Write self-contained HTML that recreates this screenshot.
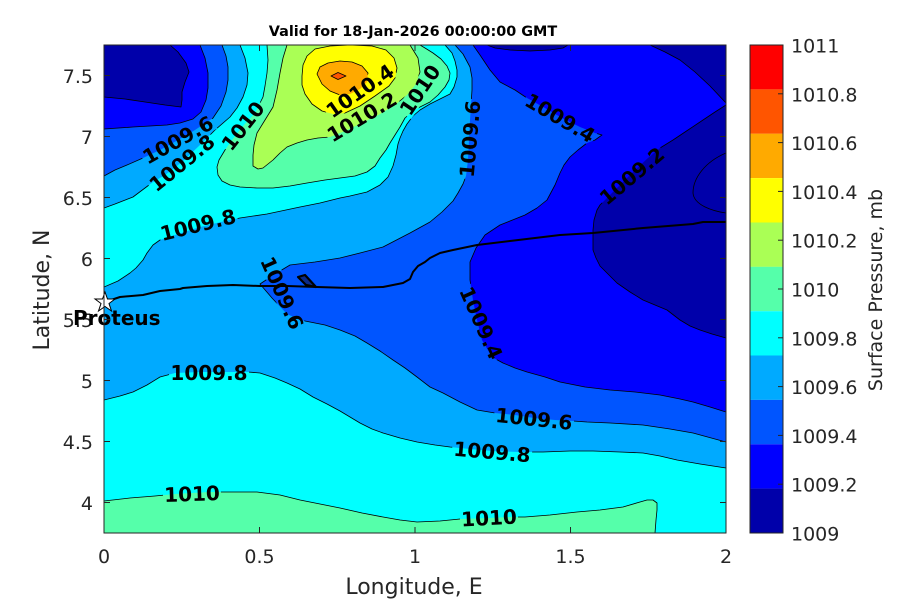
<!DOCTYPE html>
<html>
<head>
<meta charset="utf-8">
<style>
  html,body{margin:0;padding:0;background:#fff;}
  svg{display:block;}
  .tk{font-family:"DejaVu Sans","Liberation Sans",sans-serif;font-size:19px;fill:#262626;}
  .cl{font-family:"DejaVu Sans","Liberation Sans",sans-serif;font-size:20px;font-weight:bold;fill:#000;}
</style>
</head>
<body>
<svg width="900" height="600" viewBox="0 0 900 600" xmlns="http://www.w3.org/2000/svg">
  <defs>
    <clipPath id="pc"><rect x="104" y="45" width="622" height="488"/></clipPath>
    <mask id="lm" maskUnits="userSpaceOnUse" x="0" y="0" width="900" height="600">
      <rect x="0" y="0" width="900" height="600" fill="#fff"/>
      <g fill="#000">
        <rect x="138" y="131" width="80" height="18" transform="rotate(-29 178 140)"/>
        <rect x="142" y="154" width="80" height="18" transform="rotate(-39 182 163)"/>
        <rect x="214" y="117" width="58" height="18" transform="rotate(-52 243 126)"/>
        <rect x="320" y="82" width="80" height="18" transform="rotate(-35 360 91)"/>
        <rect x="322" y="108" width="80" height="18" transform="rotate(-31 362 117)"/>
        <rect x="391" y="81" width="58" height="18" transform="rotate(-56 420 90)"/>
        <rect x="430" y="130" width="80" height="18" transform="rotate(-85 470 139)"/>
        <rect x="520" y="109" width="80" height="18" transform="rotate(30.5 560 118)"/>
        <rect x="592" y="167" width="80" height="18" transform="rotate(-40 632 176)"/>
        <rect x="158" y="216" width="80" height="18" transform="rotate(-14 198 225)"/>
        <rect x="242" y="284" width="80" height="18" transform="rotate(66 282 293)"/>
        <rect x="441" y="314" width="80" height="18" transform="rotate(66 481 323)"/>
        <rect x="169" y="364" width="80" height="18"/>
        <rect x="494" y="410" width="80" height="18" transform="rotate(6 534 419)"/>
        <rect x="452" y="443" width="80" height="18" transform="rotate(5 492 452)"/>
        <rect x="163" y="485" width="58" height="18" transform="rotate(-2 192 494)"/>
        <rect x="460" y="509" width="58" height="18" transform="rotate(-3 489 518)"/>
      </g>
    </mask>
  </defs>

  <!-- Title -->
  <text x="413" y="36" text-anchor="middle" style="font-family:'DejaVu Sans','Liberation Sans',sans-serif;font-size:14.4px;font-weight:bold;fill:#000;">Valid for 18-Jan-2026 00:00:00 GMT</text>

  <g clip-path="url(#pc)">
    <!-- base -->
    <rect x="104" y="45" width="622" height="488" fill="#00AAFF"/>

    <!-- Top-left low region -->
    <polygon fill="#0055FF" points="104,45 222,45 226,56 228,67 228,80 226,92 221,106 213,118 195,130 178,140 160,150 143,158 127,165 115,170 104,176"/>
    <polygon fill="#0000FF" points="104,45 200,45 205,58 208,73 208,88 206,100 201,112 193,119 180,123 167,125 150,126 133,127 104,129"/>
    <polygon fill="#0000AA" points="104,45 170,45 178,52 186,63 189,72 185,82 182,92 182,100 181,107 165,105 145,102 125,99 104,97"/>

    <!-- Right low region -->
    <polygon fill="#0055FF" points="455,45 463,54 470,67 472,78 472,90 471,105 470,120 469,140 468,160 466,176 463,184 458,193 453,201 442,212 430,222 410,233 383,247 360,253 340,258 315,262 290,265 275,274 260,284 272,298 287,314 300,320 310,322 325,325 340,330 355,336 367,343 380,351 393,360 405,368 417,377 430,387 443,393 460,402 477,410 495,413 515,415 534,418 555,420 573,421 587,422 610,423 643,425 670,429 693,433 726,442 726,45"/>
    <polygon fill="#0000FF" points="473,45 480,55 490,70 500,82 515,90 527,98 545,108 562,118 580,127 595,133 602,135 595,140 587,143 578,150 570,157 564,165 560,173 555,185 547,200 537,208 525,215 510,221 500,225 485,235 476,248 470,262 470,280 473,300 477,320 482,340 492,357 503,363 515,368 527,372 545,377 560,382 585,387 610,390 635,392 660,395 680,399 693,402 710,407 726,412 726,45"/>
    <polygon fill="#0000AA" points="487,45 495,48 510,50 530,51 550,50 563,48 568,45"/>
    <polygon fill="#0000AA" points="650,45 665,52 680,60 695,72 710,86 726,103 726,45"/>
    <polygon fill="#0000AA" points="726,105 715,112 703,120 688,130 673,140 660,148 648,158 635,170 622,183 610,195 600,205 597,210 594,220 593,230 593,250 596,258 600,266 610,276 617,283 630,292 643,300 655,305 667,310 680,320 690,326 700,330 712,334 726,338"/>

    <!-- Upper high band -->
    <polygon fill="#00FFFF" points="104,208 115,204 133,197 153,182 165,175 182,162 200,145 215,130 230,117 237,108 243,97 247,85 248,73 245,58 240,45 445,45 452,53 455,61 457,70 457,77 454,87 450,94 440,99 430,104 420,110 413,116 407,124 403,131 400,138 398,144 396,155 393,166 388,177 380,185 367,192 350,196 340,198 320,203 300,207 267,214 240,218 225,221 200,227 175,235 160,240 153,245 147,253 143,260 136,268 130,273 118,281 104,287"/>
    <polygon fill="#55FFAA" points="267,45 268,60 267,73 265,86 263,97 255,113 243,126 232,140 225,150 219,160 217,167 218,175 222,181 230,185 240,187 257,188 273,188 290,186 307,183 325,180 340,178 355,176 367,172 375,166 380,158 386,150 390,143 395,135 400,127 405,118 413,111 420,107 430,102 438,95 445,87 449,80 450,73 447,66 441,59 433,53 425,48 420,45"/>
    <polygon fill="#AAFF55" points="287,45 283,58 280,73 277,90 273,107 265,120 257,133 254,145 253,155 253,166 258,169 263,168 268,164 273,160 280,153 287,147 297,143 307,140 318,138 330,137 345,131 362,123 380,114 395,105 407,95 416,84 420,72 418,58 410,45"/>
    <polygon fill="#FFFF00" points="302,76 303,65 307,56 315,49 330,46 350,45 372,46 386,50 394,58 397,68 395,78 389,86 375,96 360,106 345,113 333,114 322,111 312,104 305,94 302,85"/>
    <polygon fill="#FFAA00" points="317,74 320,67 328,63 340,61 352,62 362,66 368,73 367,82 360,89 350,94 340,95 330,91 322,84"/>
    <polygon fill="#FF5500" points="331,76 338,72.5 346,76 338,79.5"/>

    <!-- Lower high band -->
    <polygon fill="#00FFFF" points="104,400 120,396 133,392 147,385 160,377 175,373 200,372 230,372 248,372 260,373 275,378 287,383 300,389 313,397 327,404 340,411 350,417 360,423 372,429 383,433 400,438 417,442 435,445 450,447 470,449 492,451 520,452 543,452 570,451 593,451 620,452 643,453 660,456 677,460 700,464 726,468 726,533 104,533"/>
    <polygon fill="#55FFAA" points="104,501 130,498 155,496 175,494 192,493 210,492 228,492 257,492 280,495 300,500 320,504 340,508 362,513 383,517 400,520 417,522 440,521 460,519 489,518 510,517 525,517 550,515 577,512 600,510 623,507 640,502 647,500 653,500 657,503 657,510 656,520 655,533 104,533"/>

    <!-- contour lines -->
    <g fill="none" stroke="#000" stroke-width="0.8" stroke-linejoin="round" mask="url(#lm)">
      <polyline points="222,45 226,56 228,67 228,80 226,92 221,106 213,118 195,130 178,140 160,150 143,158 127,165 115,170 104,176"/>
      <polyline points="200,45 205,58 208,73 208,88 206,100 201,112 193,119 180,123 167,125 150,126 133,127 104,129"/>
      <polyline points="170,45 178,52 186,63 189,72 185,82 182,92 182,100 181,107 165,105 145,102 125,99 104,97"/>
      <polyline points="455,45 463,54 470,67 472,78 472,90 471,105 470,120 469,140 468,160 466,176 463,184 458,193 453,201 442,212 430,222 410,233 383,247 360,253 340,258 315,262 290,265 275,274 260,284 272,298 287,314 300,320 310,322 325,325 340,330 355,336 367,343 380,351 393,360 405,368 417,377 430,387 443,393 460,402 477,410 495,413 515,415 534,418 555,420 573,421 587,422 610,423 643,425 670,429 693,433 726,442"/>
      <polyline points="473,45 480,55 490,70 500,82 515,90 527,98 545,108 562,118 580,127 595,133 602,135 595,140 587,143 578,150 570,157 564,165 560,173 555,185 547,200 537,208 525,215 510,221 500,225 485,235 476,248 470,262 470,280 473,300 477,320 482,340 492,357 503,363 515,368 527,372 545,377 560,382 585,387 610,390 635,392 660,395 680,399 693,402 710,407 726,412"/>
      <polyline points="487,45 495,48 510,50 530,51 550,50 563,48 568,45"/>
      <polyline points="650,45 665,52 680,60 695,72 710,86 726,103"/>
      <polyline points="726,105 715,112 703,120 688,130 673,140 660,148 648,158 635,170 622,183 610,195 600,205 597,210 594,220 593,230 593,250 596,258 600,266 610,276 617,283 630,292 643,300 655,305 667,310 680,320 690,326 700,330 712,334 726,338"/>
      <path d="M726,153 C705,162 693,178 693,193 C694,205 712,211 726,213"/>
      <polyline points="104,208 115,204 133,197 153,182 165,175 182,162 200,145 215,130 230,117 237,108 243,97 247,85 248,73 245,58 240,45"/>
      <polyline points="445,45 452,53 455,61 457,70 457,77 454,87 450,94 440,99 430,104 420,110 413,116 407,124 403,131 400,138 398,144 396,155 393,166 388,177 380,185 367,192 350,196 340,198 320,203 300,207 267,214 240,218 225,221 200,227 175,235 160,240 153,245 147,253 143,260 136,268 130,273 118,281 104,287"/>
      <polyline points="267,45 268,60 267,73 265,86 263,97 255,113 243,126 232,140 225,150 219,160 217,167 218,175 222,181 230,185 240,187 257,188 273,188 290,186 307,183 325,180 340,178 355,176 367,172 375,166 380,158 386,150 390,143 395,135 400,127 405,118 413,111 420,107 430,102 438,95 445,87 449,80 450,73 447,66 441,59 433,53 425,48 420,45"/>
      <polyline points="287,45 283,58 280,73 277,90 273,107 265,120 257,133 254,145 253,155 253,166 258,169 263,168 268,164 273,160 280,153 287,147 297,143 307,140 318,138 330,137 345,131 362,123 380,114 395,105 407,95 416,84 420,72 418,58 410,45"/>
      <polygon points="302,76 303,65 307,56 315,49 330,46 350,45 372,46 386,50 394,58 397,68 395,78 389,86 375,96 360,106 345,113 333,114 322,111 312,104 305,94 302,85"/>
      <polygon points="317,74 320,67 328,63 340,61 352,62 362,66 368,73 367,82 360,89 350,94 340,95 330,91 322,84"/>
      <polygon points="331,76 338,72.5 346,76 338,79.5"/>
      <polyline points="104,400 120,396 133,392 147,385 160,377 175,373 200,372 230,372 248,372 260,373 275,378 287,383 300,389 313,397 327,404 340,411 350,417 360,423 372,429 383,433 400,438 417,442 435,445 450,447 470,449 492,451 520,452 543,452 570,451 593,451 620,452 643,453 660,456 677,460 700,464 726,468"/>
      <polyline points="104,501 130,498 155,496 175,494 192,493 210,492 228,492 257,492 280,495 300,500 320,504 340,508 362,513 383,517 400,520 417,522 440,521 460,519 489,518 510,517 525,517 550,515 577,512 600,510 623,507 640,502 647,500 653,500 657,503 657,510 656,520 655,533"/>
    </g>

    <!-- coastline / track -->
    <polyline fill="none" stroke="#000" stroke-width="2" stroke-linejoin="round" points="105,302 120,297 143,295 160,291 180,289 183,288 207,286 233,285 260,286 287,286 317,287 350,288 383,287 403,283 410,279 413,272 418,266 425,262 430,258 440,253 453,250 477,245 510,241 560,235 593,233 643,228 693,224 703,222 726,222"/>
    <polygon fill="#0b2a8a" stroke="#000" stroke-width="2.2" stroke-linejoin="round" points="298,277 305,275 316,287 306,285"/>

    <!-- contour labels -->
    <g class="cl" text-anchor="middle" dominant-baseline="central">
      <text x="178" y="140" transform="rotate(-29 178 140)">1009.6</text>
      <text x="182" y="163" transform="rotate(-39 182 163)">1009.8</text>
      <text x="243" y="126" transform="rotate(-52 243 126)">1010</text>
      <text x="360" y="91" transform="rotate(-35 360 91)">1010.4</text>
      <text x="362" y="117" transform="rotate(-31 362 117)">1010.2</text>
      <text x="420" y="90" transform="rotate(-56 420 90)">1010</text>
      <text x="470" y="139" transform="rotate(-85 470 139)">1009.6</text>
      <text x="560" y="118" transform="rotate(30.5 560 118)">1009.4</text>
      <text x="632" y="176" transform="rotate(-40 632 176)">1009.2</text>
      <text x="198" y="225" transform="rotate(-14 198 225)">1009.8</text>
      <text x="282" y="293" transform="rotate(66 282 293)">1009.6</text>
      <text x="481" y="323" transform="rotate(66 481 323)">1009.4</text>
      <text x="209" y="373">1009.8</text>
      <text x="534" y="419" transform="rotate(6 534 419)">1009.6</text>
      <text x="492" y="452" transform="rotate(5 492 452)">1009.8</text>
      <text x="192" y="494" transform="rotate(-2 192 494)">1010</text>
      <text x="489" y="518" transform="rotate(-3 489 518)">1010</text>
    </g>
  </g>

  <!-- y tick labels -->
  <g class="tk" text-anchor="end">
    <text x="93" y="83">7.5</text>
    <text x="93" y="144">7</text>
    <text x="93" y="205">6.5</text>
    <text x="93" y="266">6</text>
    <text x="93" y="327">5.5</text>
    <text x="93" y="388">5</text>
    <text x="93" y="449">4.5</text>
    <text x="93" y="510">4</text>
  </g>
  <!-- x tick labels -->
  <g class="tk" text-anchor="middle">
    <text x="104" y="563">0</text>
    <text x="259.5" y="563">0.5</text>
    <text x="415" y="563">1</text>
    <text x="570.5" y="563">1.5</text>
    <text x="726" y="563">2</text>
  </g>

  <!-- star + Proteus -->
  <polygon fill="#fff" stroke="#000" stroke-width="1" points="105,292 107.5,299 115,299 109,303.5 111.5,311 105,306.5 98.5,311 101,303.5 95,299 102.5,299"/>
  <text x="73" y="325" style="font-family:'DejaVu Sans','Liberation Sans',sans-serif;font-size:20px;font-weight:bold;fill:#000;">Proteus</text>

  <!-- axes box and ticks -->
  <rect x="104" y="45" width="622" height="488" fill="none" stroke="#262626" stroke-width="1"/>
  <g stroke="#262626" stroke-width="1">
    <line x1="104" y1="75.5" x2="110" y2="75.5"/><line x1="726" y1="75.5" x2="720" y2="75.5"/>
    <line x1="104" y1="136.5" x2="110" y2="136.5"/><line x1="726" y1="136.5" x2="720" y2="136.5"/>
    <line x1="104" y1="197.5" x2="110" y2="197.5"/><line x1="726" y1="197.5" x2="720" y2="197.5"/>
    <line x1="104" y1="258.5" x2="110" y2="258.5"/><line x1="726" y1="258.5" x2="720" y2="258.5"/>
    <line x1="104" y1="319.5" x2="110" y2="319.5"/><line x1="726" y1="319.5" x2="720" y2="319.5"/>
    <line x1="104" y1="380.5" x2="110" y2="380.5"/><line x1="726" y1="380.5" x2="720" y2="380.5"/>
    <line x1="104" y1="441.5" x2="110" y2="441.5"/><line x1="726" y1="441.5" x2="720" y2="441.5"/>
    <line x1="104" y1="502.5" x2="110" y2="502.5"/><line x1="726" y1="502.5" x2="720" y2="502.5"/>
    <line x1="259.5" y1="533" x2="259.5" y2="527"/><line x1="259.5" y1="45" x2="259.5" y2="51"/>
    <line x1="415" y1="533" x2="415" y2="527"/><line x1="415" y1="45" x2="415" y2="51"/>
    <line x1="570.5" y1="533" x2="570.5" y2="527"/><line x1="570.5" y1="45" x2="570.5" y2="51"/>
  </g>

  <!-- axis labels -->
  <text x="414" y="594" text-anchor="middle" style="font-family:'DejaVu Sans','Liberation Sans',sans-serif;font-size:22px;fill:#262626;">Longitude, E</text>
  <text transform="translate(49,290) rotate(-90)" text-anchor="middle" style="font-family:'DejaVu Sans','Liberation Sans',sans-serif;font-size:22px;fill:#262626;">Latitude, N</text>

  <!-- colorbar -->
  <g>
    <rect x="750" y="45" width="33" height="44.4" fill="#FF0000"/>
    <rect x="750" y="89.4" width="33" height="44.4" fill="#FF5500"/>
    <rect x="750" y="133.7" width="33" height="44.4" fill="#FFAA00"/>
    <rect x="750" y="178.1" width="33" height="44.4" fill="#FFFF00"/>
    <rect x="750" y="222.5" width="33" height="44.4" fill="#AAFF55"/>
    <rect x="750" y="266.8" width="33" height="44.4" fill="#55FFAA"/>
    <rect x="750" y="311.2" width="33" height="44.4" fill="#00FFFF"/>
    <rect x="750" y="355.5" width="33" height="44.4" fill="#00AAFF"/>
    <rect x="750" y="399.9" width="33" height="44.4" fill="#0055FF"/>
    <rect x="750" y="444.3" width="33" height="44.4" fill="#0000FF"/>
    <rect x="750" y="488.6" width="33" height="44.4" fill="#0000AA"/>
    <rect x="750" y="45" width="33" height="488" fill="none" stroke="#262626" stroke-width="1"/>
    <g stroke="#262626" stroke-width="1">
      <line x1="783" y1="93.8" x2="778" y2="93.8"/>
      <line x1="783" y1="142.6" x2="778" y2="142.6"/>
      <line x1="783" y1="191.4" x2="778" y2="191.4"/>
      <line x1="783" y1="240.2" x2="778" y2="240.2"/>
      <line x1="783" y1="289" x2="778" y2="289"/>
      <line x1="783" y1="337.8" x2="778" y2="337.8"/>
      <line x1="783" y1="386.6" x2="778" y2="386.6"/>
      <line x1="783" y1="435.4" x2="778" y2="435.4"/>
      <line x1="783" y1="484.2" x2="778" y2="484.2"/>
    </g>
    <g class="tk">
      <text x="791" y="52.5">1011</text>
      <text x="791" y="101.3">1010.8</text>
      <text x="791" y="150.1">1010.6</text>
      <text x="791" y="198.9">1010.4</text>
      <text x="791" y="247.7">1010.2</text>
      <text x="791" y="296.5">1010</text>
      <text x="791" y="345.3">1009.8</text>
      <text x="791" y="394.1">1009.6</text>
      <text x="791" y="442.9">1009.4</text>
      <text x="791" y="491.7">1009.2</text>
      <text x="791" y="540.5">1009</text>
    </g>
    <text transform="translate(882,290) rotate(-90)" text-anchor="middle" style="font-family:'DejaVu Sans','Liberation Sans',sans-serif;font-size:19px;fill:#262626;">Surface Pressure, mb</text>
  </g>
</svg>
</body>
</html>
